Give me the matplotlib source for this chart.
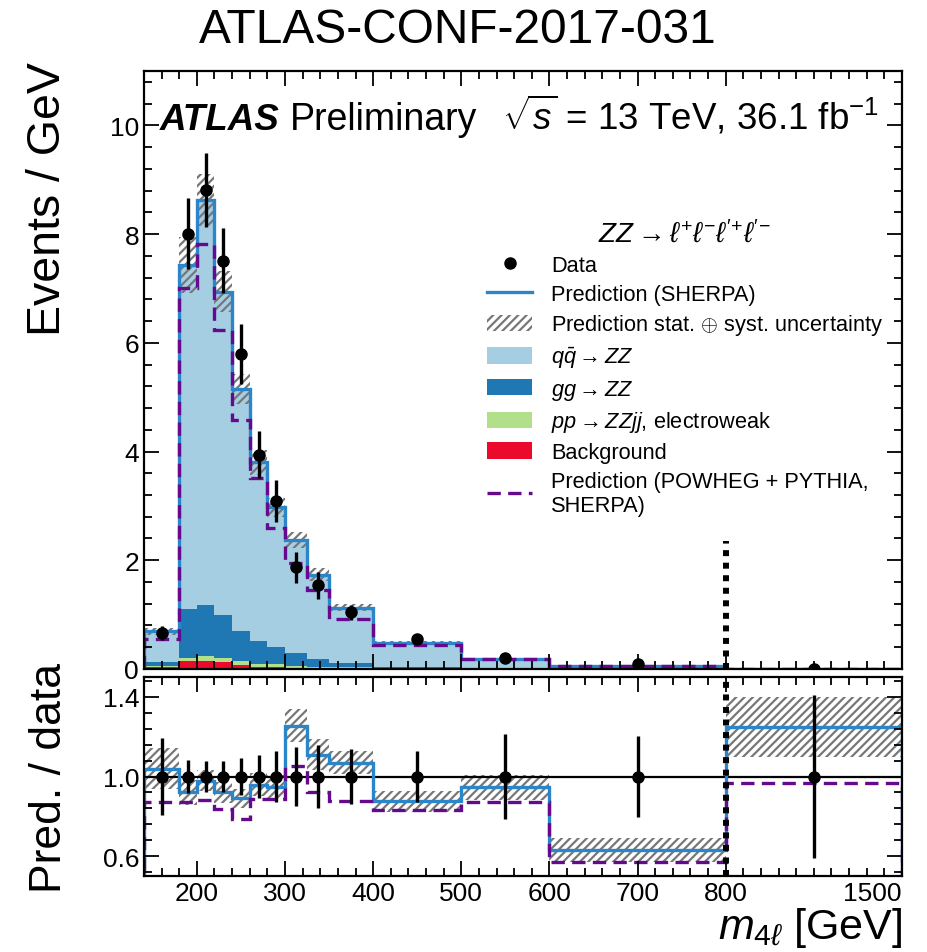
import numpy as np
import matplotlib
matplotlib.use("Agg")
import matplotlib.pyplot as plt
from matplotlib.lines import Line2D
from matplotlib.patches import Patch
from matplotlib.ticker import FixedLocator, MultipleLocator, AutoMinorLocator

plt.rcParams["font.family"] = ["Liberation Sans", "DejaVu Sans"]
plt.rcParams["mathtext.fontset"] = "custom"
plt.rcParams["mathtext.rm"] = "Liberation Sans"
plt.rcParams["mathtext.it"] = "Liberation Sans:italic"
plt.rcParams["mathtext.bf"] = "Liberation Sans:bold"
plt.rcParams["hatch.linewidth"] = 1.6

# m4l binning [GeV]
edges = [140, 180, 200, 220, 240, 260, 280, 300, 325, 350, 400, 500, 600, 800, 1500]

# stacked Sherpa prediction, events / GeV
bkg = [0.037, 0.15, 0.15, 0.13, 0.073, 0.043, 0.03, 0.012, 0.008, 0.005, 0.003, 0.001, 0.0005, 0.0001]
ewk = [0.01, 0.06, 0.09, 0.08, 0.077, 0.057, 0.06, 0.048, 0.037, 0.025, 0.01, 0.005, 0.002, 0.0005]
gg = [0.08, 0.885, 0.93, 0.78, 0.55, 0.41, 0.31, 0.23, 0.135, 0.085, 0.015, 0.006, 0.003, 0.0005]
qq = [0.563, 6.335, 7.46, 5.95, 4.45, 3.29, 2.57, 2.08, 1.55, 1.015, 0.452, 0.168, 0.0495, 0.0049]
pred_unc = [0.10, 0.07, 0.055, 0.055, 0.055, 0.06, 0.06, 0.065, 0.07, 0.055, 0.06, 0.065, 0.095, 0.12]

# Powheg+Pythia prediction
powheg = [0.56, 7.01, 7.81, 6.23, 4.58, 3.51, 2.59, 1.95, 1.45, 0.91, 0.44, 0.18, 0.05, 0.0055]

# data
data = [0.66, 8.01, 8.81, 7.51, 5.80, 3.94, 3.09, 1.87, 1.54, 1.04, 0.55, 0.20, 0.087, 0.0048]
data_rel_err = [0.195, 0.082, 0.077, 0.08, 0.095, 0.11, 0.127, 0.15, 0.16, 0.14, 0.13, 0.215, 0.205, 0.41]

# ratio panel (prediction / data)
ratio_sherpa = [1.04, 0.92, 0.98, 0.92, 0.89, 0.96, 0.95, 1.256, 1.11, 1.07, 0.875, 0.946, 0.633, 1.249]
ratio_powheg = [0.873, 0.873, 0.88, 0.836, 0.785, 0.887, 0.887, 1.053, 0.924, 0.878, 0.83, 0.87, 0.57, 0.97]

c_qq = "#a6cee3"
c_gg = "#1f78b4"
c_ew = "#b2df8a"
c_bkg = "#ec0a2c"
c_line = "#2a86c8"
c_pow = "#650a8c"
c_hatch = "#777777"


# 800-1500 GeV is squeezed to look like a 200 GeV wide bin
def fwd(x):
    x = np.asarray(x, float)
    return np.where(x <= 800, x, 800 + (x - 800) * 2 / 7)


def inv(y):
    y = np.asarray(y, float)
    return np.where(y <= 800, y, 800 + (y - 800) * 3.5)


edges_a = np.array(edges, float)
centers = inv((fwd(edges_a[:-1]) + fwd(edges_a[1:])) / 2)

fig = plt.figure(figsize=(9.27, 9.53), dpi=100)
ax = fig.add_axes([0.1553, 0.2970, 0.8177, 0.6275])
rax = fig.add_axes([0.1553, 0.0797, 0.8177, 0.2088], sharex=ax)

for a in (ax, rax):
    a.set_xscale("function", functions=(fwd, inv))
    a.set_xlim(140, 1500)
    a.tick_params(which="both", direction="in", top=True, right=True, labelsize=19, width=1.3)
    a.tick_params(which="major", length=11)
    a.tick_params(which="minor", length=5.5)
    for s in a.spines.values():
        s.set_linewidth(1.6)

# ---- main panel ----
cum = np.zeros(len(qq))
for vals, col in [(bkg, c_bkg), (ewk, c_ew), (gg, c_gg), (qq, c_qq)]:
    top = cum + np.array(vals)
    ax.stairs(top, edges_a, baseline=cum, fill=True, color=col, lw=0)
    cum = top
total = cum
unc = np.array(pred_unc)
ax.stairs(total * (1 + unc), edges_a, baseline=total * (1 - unc), fill=True,
          facecolor="none", edgecolor=c_hatch, hatch="////", lw=0)
ax.stairs(total, edges_a, color=c_line, lw=2.4)
ax.stairs(powheg, edges_a, color=c_pow, lw=2.4, ls=(0, (4, 2.2)))
d = np.array(data)
ax.errorbar(centers, d, yerr=d * np.array(data_rel_err), fmt="o", color="k",
            ms=8, elinewidth=2.4, capsize=0, zorder=5)
ax.plot([800, 800], [0, 2.35], color="k", lw=4.3, ls=(0, (1, 1.1)), zorder=6, clip_on=False)

ax.set_ylim(0, 11)
ax.yaxis.set_major_locator(MultipleLocator(2))
ax.yaxis.set_minor_locator(AutoMinorLocator(5))
ax.set_ylabel("Events / GeV", fontsize=33.5, loc="top")
ax.yaxis.set_label_coords(-0.097, 1.017)
ax.tick_params(labelbottom=False)

ax.text(0.021, 0.903, "ATLAS", transform=ax.transAxes, fontsize=26.5,
        fontweight="bold", fontstyle="italic", va="baseline")
ax.text(0.192, 0.903, "Preliminary", transform=ax.transAxes, fontsize=27, va="baseline")
ax.text(0.97, 0.903, r"$\sqrt{s}$ = 13 TeV, 36.1 fb$^{-1}$", transform=ax.transAxes,
        fontsize=26.5, va="baseline", ha="right")

handles = [
    Line2D([], [], marker="o", color="k", ls="none", ms=8),
    Line2D([], [], color=c_line, lw=2.4),
    Patch(facecolor="none", edgecolor=c_hatch, hatch="////", lw=0),
    Patch(facecolor=c_qq),
    Patch(facecolor=c_gg),
    Patch(facecolor=c_ew),
    Patch(facecolor=c_bkg),
    Line2D([], [], color=c_pow, lw=2.4, ls=(0, (4, 2.2))),
]
labels = [
    "Data",
    "Prediction (SHERPA)",
    r"Prediction stat. $\oplus$ syst. uncertainty",
    r"$q\bar{q} \rightarrow ZZ$",
    r"$gg \rightarrow ZZ$",
    r"$pp \rightarrow ZZjj$, electroweak",
    "Background",
    "Prediction (POWHEG + PYTHIA,\nSHERPA)",
]
ax.legend(handles, labels, title=r"$ZZ \rightarrow \ell^{+}\ell^{-}\ell'^{+}\ell'^{-}$",
          loc="upper left", bbox_to_anchor=(0.525, 0.768), bbox_transform=fig.transFigure,
          frameon=False, fontsize=15.7, title_fontsize=20, handlelength=2.1, handleheight=0.77,
          handletextpad=0.85, labelspacing=0.35, borderpad=0, borderaxespad=0)

fig.text(0.494, 0.968, "ATLAS-CONF-2017-031", fontsize=34.5, ha="center", va="center")

# ---- ratio panel ----
rs = np.array(ratio_sherpa)
rax.stairs(rs * (1 + unc), edges_a, baseline=rs * (1 - unc), fill=True,
           facecolor="none", edgecolor=c_hatch, hatch="////", lw=0)
rax.axhline(1.0, color="k", lw=1.6, zorder=1)
rax.stairs(rs, edges_a, color=c_line, lw=2.4)
rax.stairs(ratio_powheg, edges_a, color=c_pow, lw=2.4, ls=(0, (4, 2.2)))
rax.errorbar(centers, np.ones(len(data)), yerr=data_rel_err, fmt="o", color="k",
             ms=8, elinewidth=2.4, capsize=0, zorder=5)
rax.axvline(800, color="k", lw=4.3, ls=(0, (1, 1.1)), zorder=6)

rax.set_ylim(0.5, 1.5)
rax.yaxis.set_major_locator(FixedLocator([0.6, 1.0, 1.4]))
rax.yaxis.set_minor_locator(FixedLocator(np.arange(0.52, 1.5, 0.08)))
rax.set_yticklabels(["0.6", "1.0", "1.4"])
rax.set_ylabel("Pred. / data", fontsize=32)
rax.yaxis.set_label_coords(-0.097, 0.5)

rax.xaxis.set_major_locator(FixedLocator([200, 300, 400, 500, 600, 700, 800, 1500]))
rax.xaxis.set_minor_locator(FixedLocator(list(range(160, 800, 20)) + [800 + 70 * k for k in range(1, 10)]))
rax.set_xticklabels(["200", "300", "400", "500", "600", "700", "800", "1500"])
rax.get_xticklabels()[-1].set_horizontalalignment("right")
rax.set_xlabel(r"$m_{4\ell}$ [GeV]", fontsize=31, loc="right", labelpad=0)

fig.savefig("out.png", dpi=100)
